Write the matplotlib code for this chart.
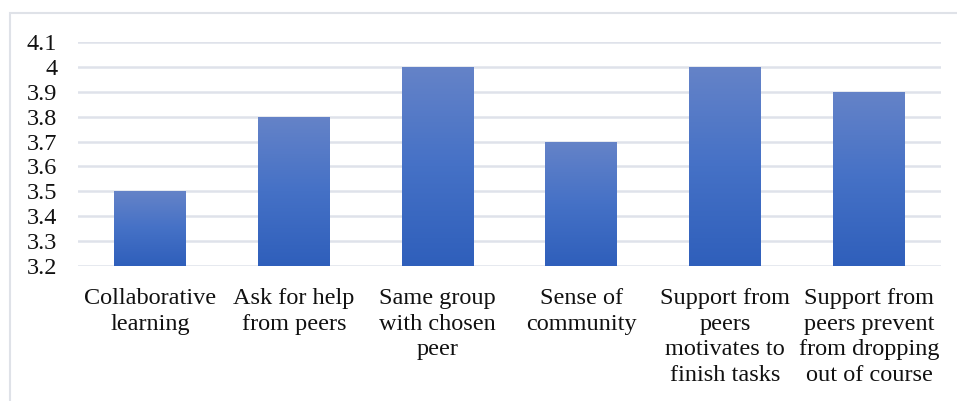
import matplotlib.pyplot as plt
import numpy as np
from matplotlib.colors import LinearSegmentedColormap
from matplotlib.patches import Rectangle

# Dane
kategorie = [
    "Collaborative\nlearning",
    "Ask for help\nfrom peers",
    "Same group\nwith chosen\npeer",
    "Sense of\ncommunity",
    "Support from\npeers\nmotivates to\nfinish tasks",
    "Support from\npeers prevent\nfrom dropping\nout of course",
]
wartosci = [3.5, 3.8, 4.0, 3.7, 4.0, 3.9]
y_ticki = [3.2, 3.3, 3.4, 3.5, 3.6, 3.7, 3.8, 3.9, 4.0, 4.1]
y_etykiety = ["3.2", "3.3", "3.4", "3.5", "3.6", "3.7", "3.8", "3.9", "4", "4.1"]

plt.rcParams['font.family'] = ['Liberation Serif', 'DejaVu Serif']

fig = plt.figure(figsize=(9.57, 4.01), dpi=100)
ax = fig.add_axes([0.0815, 0.3367, 0.9018, 0.5586])

# ramka wykresu
fig.patches.append(Rectangle((10 / 957, -0.1), 1.2, 1 - 13 / 401 + 0.1,
                             transform=fig.transFigure, fill=False,
                             edgecolor='#dfe2e8', linewidth=1.5))

x = np.arange(len(kategorie))
slupki = ax.bar(x, wartosci, width=0.5, bottom=0, color='none', zorder=2)

# gradient w slupkach
cmap = LinearSegmentedColormap.from_list('g', ['#2f5fbb', '#4571c6', '#6583c8'])
grad = np.linspace(0, 1, 256).reshape(-1, 1)
for b in slupki:
    x0, w = b.get_x(), b.get_width()
    y1 = b.get_height()
    im = ax.imshow(grad, extent=(x0, x0 + w, 3.2, y1), origin='lower',
                   cmap=cmap, aspect='auto', zorder=2)
    im.set_clip_path(b)

ax.set_xlim(-0.5, len(kategorie) - 0.5)
ax.set_ylim(3.2, 4.1)
ax.set_yticks(y_ticki)
ax.set_yticklabels(y_etykiety)
ax.set_xticks(x)
ax.set_xticklabels(kategorie, linespacing=1.28)
ax.tick_params(axis='both', length=0, labelsize=17.5, labelcolor='#111111')
ax.tick_params(axis='y', pad=15)
ax.tick_params(axis='x', pad=16)

ax.grid(axis='y', color='#dfe2ea', linewidth=1.8, zorder=0)
ax.set_axisbelow(True)
for s in ax.spines.values():
    s.set_visible(False)

plt.savefig('out.png', dpi=100)
